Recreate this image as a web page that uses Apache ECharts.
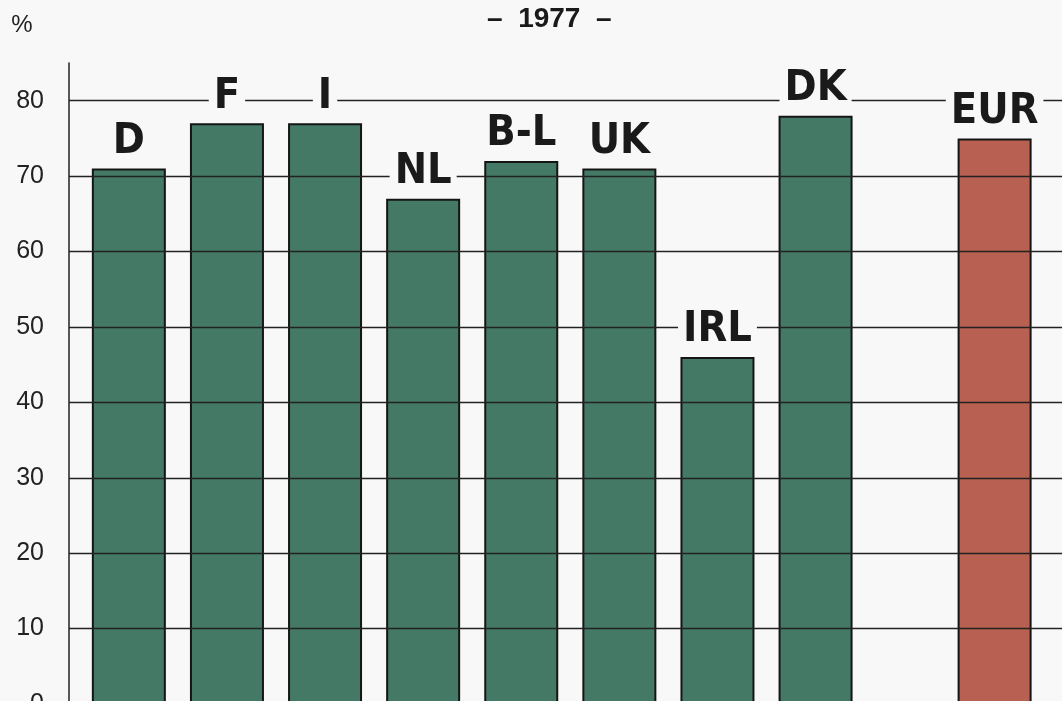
<!DOCTYPE html>
<html>
<head>
<meta charset="utf-8">
<script src="https://cdn.jsdelivr.net/npm/echarts@6/dist/echarts.min.js"></script>
<style>
html,body{margin:0;padding:0;background:#f8f8f8;overflow:hidden;}
#chart{width:1062px;height:701px;}
</style>
</head>
<body>
<div id="chart"></div>
<script>
// ---- data ----
const categories = ['D', 'F', 'I', 'NL', 'B-L', 'UK', 'IRL', 'DK'];
const values = [71, 77, 77, 67, 72, 71, 46, 78];
const eurCategory = 'EUR';
const eurValue = 75;
const yTicks = [10, 20, 30, 40, 50, 60, 70, 80];
const titleText = '–  1977  –';
const unitText = '%';

// ---- layout ----
const EUR_SLOT = 8.825;  // EUR bar stands apart after a gap
const LABEL_FONT = "'Liberation Sans Narrow', 'DejaVu Sans Condensed', 'Liberation Sans', sans-serif";
const BODY_FONT = "'Liberation Sans', Arial, sans-serif";

const countryData = categories.map((c, i) => ({ name: c, value: [i, values[i]] }));
const eurData = [{ name: eurCategory, value: [EUR_SLOT, eurValue] }];

const chart = echarts.init(document.getElementById('chart'), null, { renderer: 'canvas' });
chart.setOption({
  backgroundColor: '#f8f8f8',
  animation: false,
  grid: { left: 69, width: 993, top: 63, height: 641, containLabel: false, outerBoundsMode: 'none' },
  xAxis: {
    type: 'value', min: -0.61, max: 9.512,
    show: false, splitLine: { show: false }
  },
  yAxis: {
    type: 'value', min: 0, max: 85, interval: 10,
    axisLine: { show: true, onZero: false, lineStyle: { color: '#222', width: 1.5 } },
    axisTick: { show: false },
    splitLine: { show: false },
    axisLabel: {
      color: '#222', fontSize: 25, fontFamily: BODY_FONT, margin: 25,
      formatter: v => (v % 10 === 0 ? String(v) : '')
    }
  },
  graphic: [
    { type: 'text', left: 557 - 70, top: 5, style: { text: titleText, fontSize: 28, fontWeight: 'bold', fontFamily: BODY_FONT, fill: '#1a1a1a', width: 140, align: 'center' } },
    { type: 'text', x: 22, y: 25, style: { text: unitText, fontSize: 24, fontFamily: BODY_FONT, fill: '#222', align: 'center', verticalAlign: 'middle' } }
  ],
  series: [
    {
      type: 'bar', data: countryData, barWidth: 74, barGap: '-100%', z: 2,
      itemStyle: { color: '#447a65', borderColor: '#151515', borderWidth: 2 },
      markLine: {
        silent: true, symbol: 'none', z: 5,
        label: { show: false },
        lineStyle: { color: '#222', width: 1.3, type: 'solid' },
        data: yTicks.map(v => ({ yAxis: v }))
      }
    },
    {
      type: 'bar', data: eurData, barWidth: 74, barGap: '-100%', z: 2,
      itemStyle: { color: '#b86052', borderColor: '#151515', borderWidth: 2 }
    },
    {
      type: 'bar', data: countryData.concat(eurData), barWidth: 74, barGap: '-100%', z: 10,
      silent: true,
      itemStyle: { color: 'rgba(0,0,0,0)' },
      label: {
        show: true, position: 'top', distance: 6,
        formatter: '{b}', fontSize: 43, fontWeight: 'bold', fontFamily: LABEL_FONT,
        color: '#1a1a1a', backgroundColor: '#f8f8f8', padding: [0, 5], lineHeight: 42
      }
    }
  ]
});
</script>
</body>
</html>
